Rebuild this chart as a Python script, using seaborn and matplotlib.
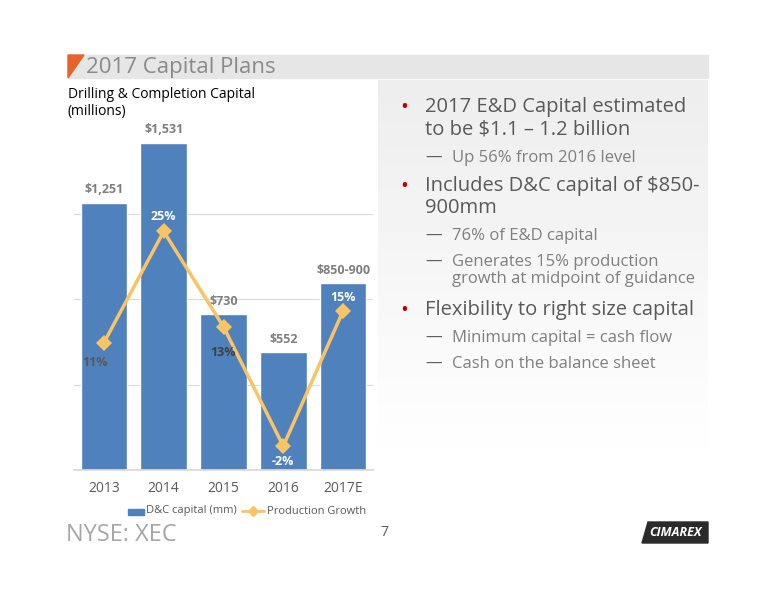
import matplotlib
matplotlib.use("Agg")
import matplotlib.pyplot as plt
import seaborn as sns
import pandas as pd
import numpy as np
from matplotlib.patches import Rectangle, Polygon

years = ["2013", "2014", "2015", "2016", "2017E"]
capital = [1251, 1531, 730, 552, 875]
capital_labels = ["$1,251", "$1,531", "$730", "$552", "$850-900"]
growth = [11, 25, 13, -2, 15]
growth_labels = ["11%", "25%", "13%", "-2%", "15%"]

sns.set_theme(style="white")
plt.rcParams['font.family'] = ['Open Sans', 'DejaVu Sans']

W, H = 776, 600
fig = plt.figure(figsize=(W/100, H/100), dpi=100)
def fx(x): return x / W
def fy(y): return 1 - y / H

# title bar
fig.patches.append(Rectangle((fx(68), fy(78)), fx(708-68), 23/H, transform=fig.transFigure, color="#e6e6e6", zorder=0))
fig.patches.append(Polygon([[fx(68), fy(78)], [fx(84), fy(55)], [fx(68), fy(55)]], closed=True, transform=fig.transFigure, color="#e8632b", zorder=1))
fig.text(fx(86), fy(67), "2017 Capital Plans", fontsize=16, color="#8a8a8a", va="center", ha="left")
# right gradient panel
grad = np.linspace(0.93, 1.0, 100).reshape(-1, 1)
gax = fig.add_axes([fx(378), fy(470), fx(330), 390/H], zorder=-1)
gax.imshow(grad, cmap="gray", vmin=0, vmax=1, aspect="auto", extent=[0, 1, 0, 1], origin="upper")
gax.axis("off")

ax = fig.add_axes([fx(74), fy(470), fx(373-74), (470-128)/H])
df = pd.DataFrame({"year": years, "cap": capital})
sns.barplot(data=df, x="year", y="cap", color="#4f81bd", width=0.78, saturation=1, ax=ax)
ax.set_ylim(0, 1600)
ax.set_xlim(-0.5, 4.5)
ax.set_yticks([0, 400, 800, 1200])
ax.yaxis.grid(True, color="#d9d9d9", lw=0.8)
ax.set_axisbelow(True)
ax.set_yticklabels([])
ax.tick_params(axis="y", length=0, left=False)
ax.tick_params(axis="x", length=0)
ax.set_xlabel(""); ax.set_ylabel("")
for s in ax.spines.values(): s.set_visible(False)
ax.spines["bottom"].set_visible(True); ax.spines["bottom"].set_color("#d9d9d9")
ax.tick_params(axis="x", labelsize=10, labelcolor="#595959", pad=8)
for i, (v, l) in enumerate(zip(capital, capital_labels)):
    ax.text(i, v + 30, l, ha="center", va="bottom", fontsize=9, fontweight="bold", color="#7f7f7f")
ax.patch.set_alpha(0)

ax2 = ax.twinx()
sns.lineplot(x=list(range(5)), y=growth, color="#fac364", lw=2.5, marker="D", markersize=8, markeredgewidth=0, ax=ax2)
ax2.set_ylim(-5, 38)
ax2.axis("off")
pos = [(-0.15, -2.5), (0, 1.9), (0, -3.2), (0, -1.9), (0, 1.7)]
cols = ["#595959", "white", "#404040", "white", "white"]
for i, (g, l, (dx, dy), c) in enumerate(zip(growth, growth_labels, pos, cols)):
    ax2.text(i + dx, g + dy, l, ha="center", va="center", fontsize=9, fontweight="bold", color=c)

fig.text(fx(68), fy(103), "Drilling & Completion Capital\n(millions)", fontsize=10, color="black", va="center", ha="left", linespacing=1.1)

# legend
fig.patches.append(Rectangle((fx(128), fy(515)), fx(16), 6/H, transform=fig.transFigure, color="#4f81bd"))
fig.text(fx(146), fy(511), "D&C capital (mm)", fontsize=8, color="#595959", va="center")
fig.lines.append(plt.Line2D([fx(242), fx(264)], [fy(511), fy(511)], transform=fig.transFigure, color="#fac364", lw=2))
fig.lines.append(plt.Line2D([fx(253)], [fy(511)], transform=fig.transFigure, color="#fac364", marker="D", ms=5))
fig.text(fx(267), fy(511), "Production Growth", fontsize=8, color="#595959", va="center")

# bullets
red = "#c00000"
def bullet(y, text):
    fig.text(fx(400), fy(y), "•", fontsize=15, color=red, va="top")
    fig.text(fx(425), fy(y), text, fontsize=14.5, color="#595959", va="top", linespacing=1.15)
def sub(y, text):
    fig.text(fx(425), fy(y), "—", fontsize=12, color="#595959", va="top")
    fig.text(fx(452), fy(y), text, fontsize=12, color="#7f7f7f", va="top", linespacing=1.1)
bullet(97, "2017 E&D Capital estimated\nto be $1.1 – 1.2 billion")
sub(150, "Up 56% from 2016 level")
bullet(176, "Includes D&C capital of $850-\n900mm")
sub(228, "76% of E&D capital")
sub(254, "Generates 15% production\ngrowth at midpoint of guidance")
bullet(300, "Flexibility to right size capital")
sub(330, "Minimum capital = cash flow")
sub(356, "Cash on the balance sheet")

# footer
fig.text(fx(66), fy(535), "NYSE: XEC", fontsize=17, color="#a6a6a6", va="center")
fig.text(fx(384), fy(533), "7", fontsize=10, color="#595959", va="center", ha="center")
fig.patches.append(Polygon([[fx(642), fy(543)], [fx(648), fy(522)], [fx(708), fy(522)], [fx(708), fy(543)]], closed=True, transform=fig.transFigure, color="#2b2b2b"))
fig.text(fx(676), fy(533), "CIMAREX", fontsize=9, fontweight="bold", fontstyle="italic", color="white", va="center", ha="center")

fig.savefig("out.png", dpi=100)
